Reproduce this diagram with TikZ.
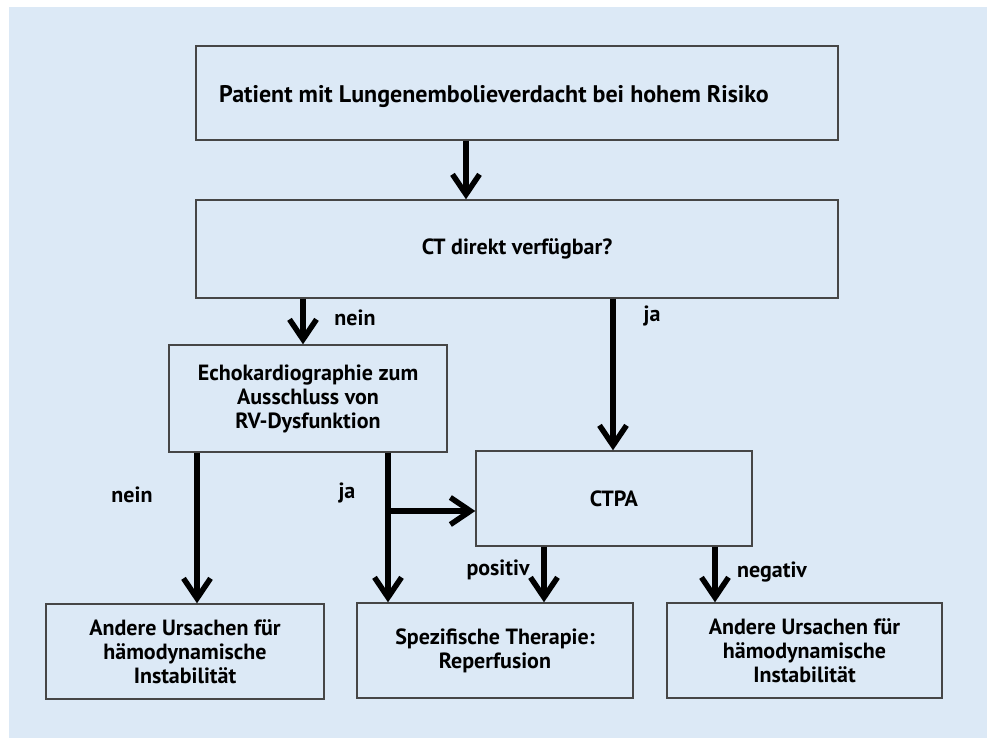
\documentclass[tikz,border=0pt]{standalone}
\usepackage{fontspec}
\setmainfont{PT Sans}
\usetikzlibrary{arrows.meta}
\definecolor{bgblue}{RGB}{220,233,246}
\definecolor{boxline}{RGB}{70,70,70}

\begin{document}
\begin{tikzpicture}[x=1pt,y=-1pt,
  box/.style={draw=boxline, line width=1.4pt, align=center, inner sep=0pt,
    minimum height=95pt, font=\fontsize{22}{24}\selectfont\bfseries},
  arr/.style={line width=5.5pt, -{Straight Barb[length=20pt,width=27pt]}},
  lbl/.style={font=\fontsize{22}{24}\selectfont\bfseries}]
\useasboundingbox (0,0) rectangle (987,738);
\fill[bgblue] (9,7) rectangle (987,738);

% nodes
\node[box, minimum width=642pt, minimum height=94pt,
  label={[lbl, font=\fontsize{24}{26}\selectfont\bfseries, xshift=-23pt, yshift=-4pt]center:Patient mit Lungenembolieverdacht bei hohem Risiko}]
  (risk) at (517,93) {};
\node[box, minimum width=642pt, minimum height=98pt] (ct) at (517,249) {CT direkt verfügbar?};
\node[box, minimum width=278pt, minimum height=107pt] (echo) at (308,398.5)
  {Echokardiographie zum\\Ausschluss von\\RV-Dysfunktion};
\node[box, minimum width=276pt] (ctpa) at (614,498.5) {CTPA};
\node[box, minimum width=278pt] (other1) at (185,651.5)
  {Andere Ursachen für\\hämodynamische\\Instabilität};
\node[box, minimum width=276pt] (therapy) at (495,650.5) {Spezifische Therapie:\\Reperfusion};
\node[box, minimum width=275pt] (other2) at (804.5,650.5)
  {Andere Ursachen für\\hämodynamische\\Instabilität};

% connectors
\coordinate (down) at (466,0);
\coordinate (ctno) at (303,0);
\coordinate (ctyes) at (613,0);
\coordinate (echono) at (197,0);
\coordinate (echoyes) at (388,0);
\coordinate (branch) at (388,511);
\coordinate (pos) at (544,0);
\coordinate (neg) at (715,0);

\draw[arr] (risk.south -| down) -- (ct.north -| down);
\draw[arr] (ct.south -| ctno) -- (echo.north -| ctno);
\draw[arr] (ct.south -| ctyes) -- (ctpa.north -| ctyes);
\draw[arr] (echo.south -| echono) -- (other1.north -| echono);
\draw[arr] (echo.south -| echoyes) -- (therapy.north -| echoyes);
\draw[arr] (branch) -- (branch -| ctpa.west);
\draw[arr] (ctpa.south -| pos) -- (therapy.north -| pos);
\draw[arr] (ctpa.south -| neg) -- (other2.north -| neg);

% labels
\node[lbl] (l1) at (355,318) {nein};
\node[lbl] (l2) at (652,316) {ja};
\node[lbl] (l3) at (132,495) {nein};
\node[lbl] (l4) at (347,493) {ja};
\node[lbl] (l5) at (498,570) {positiv};
\node[lbl] (l6) at (772,572) {negativ};
\end{tikzpicture}
\end{document}
